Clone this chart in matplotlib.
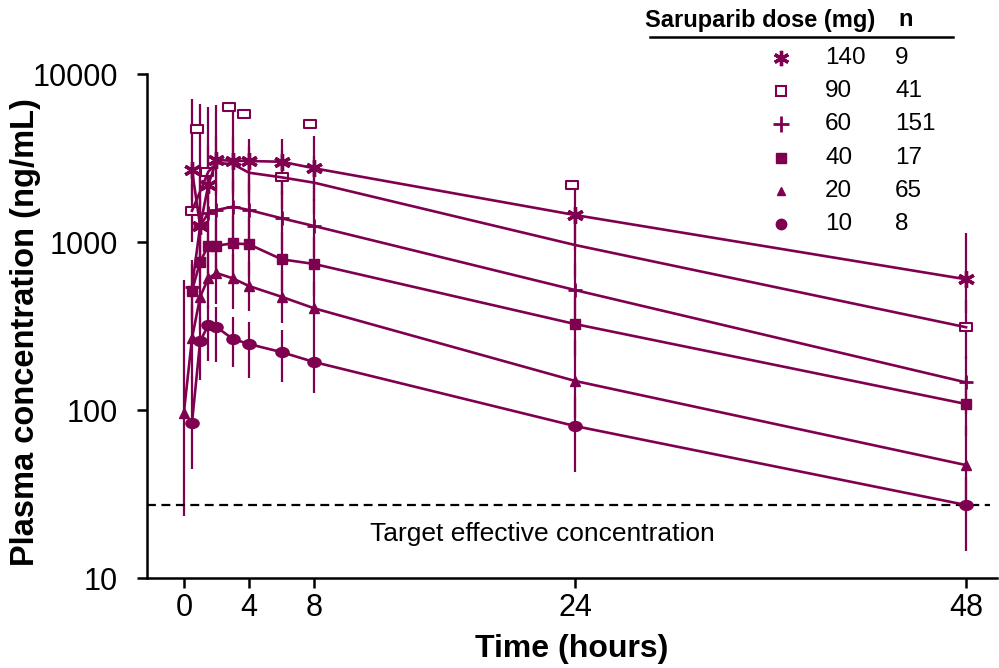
import numpy as np
import matplotlib.pyplot as plt
from matplotlib.path import Path
from matplotlib.transforms import Affine2D

plt.rcParams['font.family'] = ['Liberation Sans', 'DejaVu Sans']

# sampling times (hours)
t_main = [0.5, 1, 1.5, 2, 3, 4, 6, 8, 24, 48]
t_20 = [0, 0.5, 1, 1.5, 2, 3, 4, 6, 8, 24, 48]

# mean plasma concentration (ng/mL) and error bar limits
c140 = [2683, 1245, 2185, 3076, 3047, 3034, 3005, 2747, 1448, 600]
lo140 = [1750, 800, 1400, 2000, 2000, 1950, 1900, 1750, 900, 380]
hi140 = [7063, 6601, 6337, 6513, 6166, 4120, 4120, 4276, 2068, 1136]

c90 = [1535, 2000, 2621, 2950, 2912, 2585, 2427, 2254, 960, 311]
lo90 = [1000, 1300, 1700, 1900, 1900, 1680, 1580, 1460, 620, 200]
hi90 = [2220, 2900, 3800, 4280, 4220, 3750, 3520, 3270, 1390, 450]
# 90 mg markers as they sit in the figure
t90_mk = [0.5, 0.8, 1.4, 2.75, 3.7, 6, 7.75, 23.8, 48]
c90_mk = [1535, 4706, 2621, 6390, 5803, 2427, 5060, 2183, 311]

c60 = [540, 1245, 1488, 1550, 1623, 1550, 1384, 1245, 518, 146]
lo60 = [350, 810, 970, 1010, 1050, 1010, 900, 810, 340, 95]
hi60 = [780, 1800, 2150, 2250, 2350, 2250, 2000, 1800, 750, 210]

c40 = [513, 763, 951, 951, 982, 969, 789, 740, 325, 108.6]
lo40 = [330, 500, 620, 620, 640, 630, 510, 480, 210, 70]
hi40 = [740, 1100, 1380, 1380, 1420, 1400, 1140, 1070, 470, 157]

c20 = [96, 267, 472, 608, 654, 608, 547, 472, 403, 149, 47]
lo20 = [23.4, 150, 300, 400, 430, 400, 390, 330, 270, 90, 25]
hi20 = [594, 420, 700, 850, 900, 850, 760, 680, 580, 260, 80]

c10 = [84, 257, 320, 312, 265, 247, 221, 193, 80.3, 27.2]
lo10 = [44.6, 151, 196, 193, 181, 156, 146, 127, 42.9, 14.5]
hi10 = [160, 360, 420, 410, 360, 335, 300, 270, 120, 40]

target = 27.2

doses = ['140', '90', '60', '40', '20', '10']
n_pat = ['9', '41', '151', '17', '65', '8']

col = '#800050'

ellipse = Path.unit_circle().transformed(Affine2D().scale(1, 0.75))
rect = Path([(-1, -0.65), (1, -0.65), (1, 0.65), (-1, 0.65), (-1, -0.65)],
            [Path.MOVETO, Path.LINETO, Path.LINETO, Path.LINETO, Path.CLOSEPOLY])

fig = plt.figure(figsize=(9.99, 6.68), dpi=100)
ax = fig.add_axes([0.147, 0.1347, 0.851, 0.7545])


def series(t, c, lo, hi, **kw):
    c = np.array(c)
    err = [c - np.array(lo), np.array(hi) - c]
    ax.errorbar(t, c, yerr=err, color=col, lw=1.9, elinewidth=1.6,
                capsize=0, **kw)


series(t_main, c140, lo140, hi140, marker=(6, 2, 0), ms=12, mew=2.4)
series(t_main, c90, lo90, hi90, marker=None)
ax.plot(t90_mk, c90_mk, ls='none', marker=rect, ms=9, mfc='white',
        mec=col, mew=1.5)
series(t_main, c60, lo60, hi60, marker='+', ms=10, mew=2)
series(t_main, c40, lo40, hi40, marker='s', ms=6.5)
series(t_20, c20, lo20, hi20, marker='^', ms=7.5)
series(t_main, c10, lo10, hi10, marker=ellipse, ms=9.5)

ax.axhline(target, xmin=0, xmax=0.992, color='black', lw=1.6,
           ls=(0, (4, 2.5)))
ax.text(22.0, 18.3, 'Target effective concentration', fontsize=19,
        ha='center', va='center')

ax.set_yscale('log')
ax.set_ylim(10, 10000)
ax.set_xlim(-2.27, 49.9)
ax.set_yticks([10, 100, 1000, 10000])
ax.set_yticklabels(['10', '100', '1000', '10000'])
ax.yaxis.set_minor_locator(plt.NullLocator())
ax.set_xticks([0, 4, 8, 24, 48])
ax.tick_params(labelsize=22, width=1.8, length=7)
ax.tick_params(axis='y', pad=14)
for s in ['top', 'right']:
    ax.spines[s].set_visible(False)
for s in ['left', 'bottom']:
    ax.spines[s].set_linewidth(1.8)

ax.set_xlabel('Time (hours)', fontsize=23, fontweight='bold', labelpad=8)
ax.set_ylabel('Plasma concentration (ng/mL)', fontsize=23.5,
              fontweight='bold')
ax.yaxis.set_label_coords(-0.124, 0.488)

# legend table
W, H = 999, 668
fig.text(645 / W, 1 - 20 / H, 'Saruparib dose (mg)', fontsize=17,
         fontweight='bold', va='center')
fig.text(898 / W, 1 - 20 / H, 'n', fontsize=17, fontweight='bold',
         va='center')
fig.add_artist(plt.Line2D([650 / W, 953 / W], [1 - 37 / H, 1 - 37 / H],
                          color='black', lw=1.8))
row_y = [58, 91, 124, 157.5, 191, 223.5]
mk = [dict(marker=(6, 2, 0), ms=11, mew=2.4),
      dict(marker='s', ms=7, mfc='white', mew=1.5),
      dict(marker='+', ms=11, mew=2),
      dict(marker='s', ms=7),
      dict(marker='^', ms=6),
      dict(marker='o', ms=7.5)]
for y, d, n, m in zip(row_y, doses, n_pat, mk):
    yy = 1 - y / H
    fig.add_artist(plt.Line2D([781 / W], [yy], ls='none', color=col,
                              mec=col, **m))
    fig.text(825 / W, yy, d, fontsize=17.5, va='center')
    fig.text(895 / W, yy, n, fontsize=17.5, va='center')

fig.savefig('out.png', dpi=100)
